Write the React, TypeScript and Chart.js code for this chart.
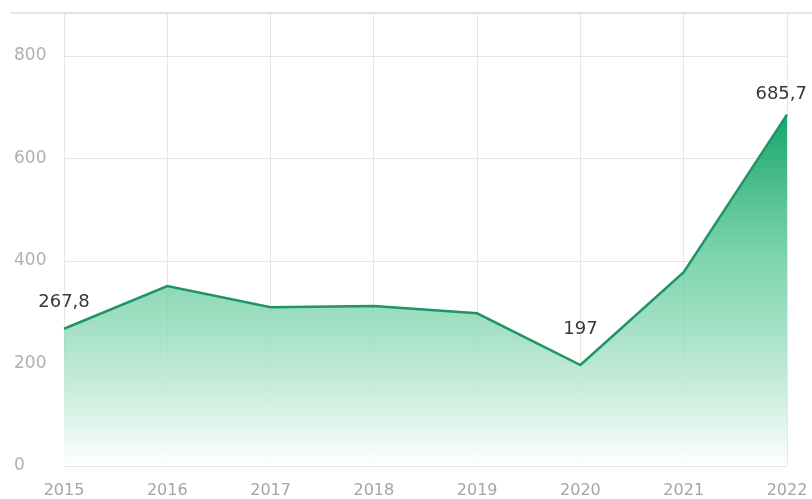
import React, { useEffect, useRef } from "react";
import { Chart, registerables } from "chart.js";

Chart.register(...registerables);

const years = ["2015", "2016", "2017", "2018", "2019", "2020", "2021", "2022"];
const values = [267.8, 351, 310, 312, 298, 197, 378, 685.7];
const labelledIndexes = [0, 5, 7];
const yTicks = [0, 200, 400, 600, 800];

const FONT = "'DejaVu Sans', 'Noto Sans', sans-serif";

const labelPlugin = {
  id: "pointLabels",
  beforeDatasetsDraw(chart: any) {
    const ctx = chart.ctx;
    const top = chart.chartArea.top;
    ctx.save();
    ctx.strokeStyle = "#dedede";
    ctx.lineWidth = 1.5;
    ctx.beginPath();
    ctx.moveTo(10, top);
    ctx.lineTo(chart.width, top);
    ctx.stroke();
    ctx.restore();
  },
  afterDatasetsDraw(chart: any) {
    const meta = chart.getDatasetMeta(0);
    const ctx = chart.ctx;
    ctx.save();
    ctx.font = "18px " + FONT;
    ctx.fillStyle = "#383838";
    ctx.textBaseline = "middle";
    ctx.textAlign = "center";
    labelledIndexes.forEach((i) => {
      const pt = meta.data[i];
      const txt = String(values[i]).replace(".", ",");
      const last = i === values.length - 1;
      const w = ctx.measureText(txt).width;
      let x = pt.x;
      if (x + w / 2 > chart.width - 5) x = chart.width - 5 - w / 2;
      const off = i === 5 ? 36 : last ? 20 : 26;
      ctx.fillText(txt, x, pt.y - off);
    });
    ctx.restore();
  },
};

export default function App() {
  const ref = useRef<HTMLCanvasElement>(null);
  useEffect(() => {
    document.body.style.margin = "0";
    const canvas = ref.current!;
    const chart = new Chart(canvas, {
      type: "line",
      data: {
        labels: years,
        datasets: [
          {
            data: values,
            borderColor: "#1f9467",
            borderWidth: 2.5,
            pointRadius: 0,
            tension: 0,
            fill: "origin",
            backgroundColor: (c: any) => {
              const area = c.chart.chartArea;
              if (!area) return "rgba(20,160,100,0.5)";
              const g = c.chart.ctx.createLinearGradient(0, area.top + 90, 0, area.bottom);
              g.addColorStop(0, "rgba(12,160,100,1)");
              g.addColorStop(0.45, "rgba(90,200,150,0.75)");
              g.addColorStop(1, "rgba(255,255,255,0.9)");
              return g;
            },
          },
        ],
      },
      options: {
        responsive: false,
        animation: false,
        layout: { padding: { left: 14, right: 25, top: 13, bottom: 0 } },
        plugins: { legend: { display: false }, tooltip: { enabled: false } },
        scales: {
          x: {
            offset: false,
            grid: { color: "#e6e6e6", drawTicks: false },
            border: { display: false },
            ticks: {
              color: "#a5a5a5",
              font: { family: FONT, size: 16 },
              padding: 15,
              maxRotation: 0,
            },
            afterFit: (s: any) => {
              s.height = 33;
              s.paddingLeft = 0;
              s.paddingRight = 0;
            },
          },
          y: {
            min: 0,
            max: 884,
            afterBuildTicks: (s: any) => {
              s.ticks = [...yTicks, 884].map((v) => ({ value: v }));
            },
            grid: { color: "#e6e6e6", drawTicks: false },
            border: { display: false },
            ticks: {
              color: "#b0b0b0",
              crossAlign: "far",
              font: { family: FONT, size: 17 },
              callback: (v: any) => (yTicks.includes(Number(v)) ? String(v) : ""),
            },
            afterFit: (s: any) => {
              s.width = 50;
              s.paddingTop = 0;
              s.paddingBottom = 0;
            },
          },
        },
      },
      plugins: [labelPlugin],
    } as any);
    return () => chart.destroy();
  }, []);
  return (
    <div style={{ width: 812, height: 499, background: "#fff" }}>
      <canvas ref={ref} width={812} height={499} />
    </div>
  );
}
